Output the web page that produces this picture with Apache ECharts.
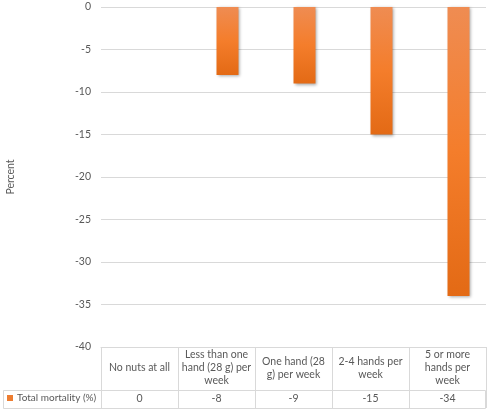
<!DOCTYPE html>
<html><head><meta charset="utf-8">
<script src="https://cdn.jsdelivr.net/npm/echarts@6/dist/echarts.min.js"></script>
<style>html,body{margin:0;padding:0;background:#fff}#c{width:490px;height:412px}</style>
</head><body><div id="c"></div>
<script>
var categories = ["No nuts at all", "Less than one hand (28 g) per week", "One hand (28 g) per week", "2-4 hands per week", "5 or more hands per week"];
var tickLabels = ["No nuts at all", "Less than one\nhand (28 g) per\nweek", "One hand (28\ng) per week", "2-4 hands per\nweek", "5 or more\nhands per\nweek"];
var mortality = [0, -8, -9, -15, -34];
var seriesName = "Total mortality (%)";
var yTicks = {min: -40, max: 0, interval: 5};

var FONT = 'Lato';
var FS = 10.5;
var GREY = '#595959';
var LINE = '#d9d9d9';
var chart = echarts.init(document.getElementById('c'));
chart.setOption({
  animation: false,
  textStyle: {fontFamily: FONT},
  grid: {left: 101, right: 4, top: 7, bottom: 65, containLabel: false, outerBoundsMode: 'none'},
  legend: {
    left: 7, top: 393, itemWidth: 6, itemHeight: 6, itemGap: 4, padding: [0, 0, 0, 0],
    data: [{name: seriesName, icon: 'rect', itemStyle: {color: '#ED7D31'}}],
    textStyle: {fontFamily: FONT, fontSize: 10, color: GREY, padding: [0, 0, 0, -1]}
  },
  xAxis: [{
    type: 'category', data: categories, position: 'bottom',
    axisLine: {onZero: false, lineStyle: {color: LINE}},
    axisTick: {show: true, length: 61, lineStyle: {color: LINE}},
    axisLabel: {
      interval: 0, margin: 21, verticalAlign: 'middle', lineHeight: 13,
      fontFamily: FONT, fontSize: FS, color: GREY,
      formatter: function (v, i) { return tickLabels[i]; }
    },
    splitLine: {show: false}
  }, {
    type: 'category', data: categories, position: 'bottom', offset: 43,
    axisLine: {show: false}, axisTick: {show: false},
    axisLabel: {
      interval: 0, margin: 9, verticalAlign: 'middle',
      fontFamily: FONT, fontSize: FS, color: GREY,
      formatter: function (v, i) { return String(mortality[i]); }
    }
  }],
  yAxis: {
    type: 'value', min: yTicks.min, max: yTicks.max, interval: yTicks.interval,
    name: 'Percent', nameLocation: 'middle', nameGap: 85, nameRotate: 90,
    nameTextStyle: {fontFamily: FONT, fontSize: FS, color: GREY},
    axisLine: {show: false}, axisTick: {show: false},
    axisLabel: {margin: 10, fontFamily: FONT, fontSize: FS, color: GREY},
    splitLine: {lineStyle: {color: LINE, width: 1}}
  },
  graphic: [{
    type: 'rect', shape: {x: 3.5, y: 390.5, width: 482, height: 18},
    style: {fill: 'none', stroke: LINE, lineWidth: 1}, silent: true
  }],
  series: [{
    type: 'bar', name: '_gap', data: [], barWidth: 22, barGap: '0%'
  }, {
    type: 'bar', name: seriesName, data: mortality, barWidth: 22, barGap: '0%',
    itemStyle: {
      color: new echarts.graphic.LinearGradient(0, 0, 0, 1, [
        {offset: 0, color: '#EF8C52'},
        {offset: 0.5, color: '#F47D2B'},
        {offset: 1, color: '#E36A15'}
      ]),
      shadowBlur: 3, shadowOffsetX: 1, shadowOffsetY: 1, shadowColor: 'rgba(0,0,0,0.35)'
    }
  }]
});
</script></body></html>
